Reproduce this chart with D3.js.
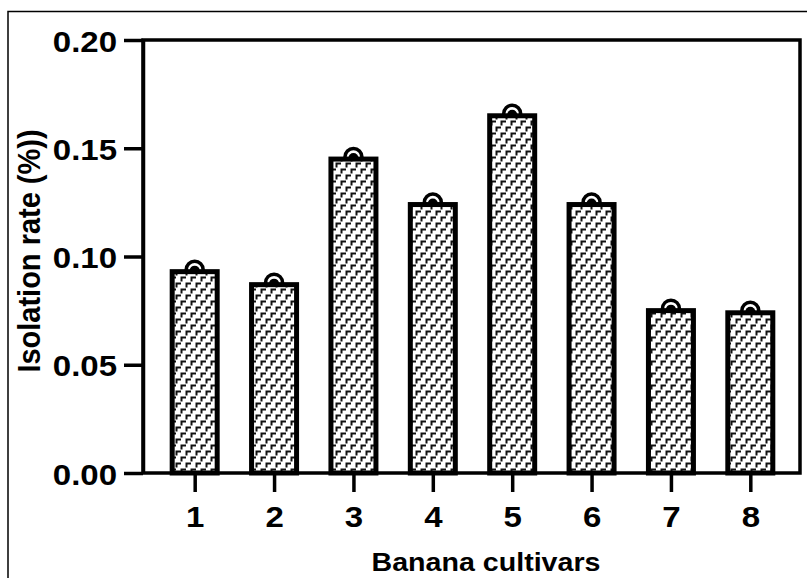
<!DOCTYPE html>
<html>
<head>
<meta charset="utf-8">
<script src="https://cdn.jsdelivr.net/npm/d3@7"></script>
<style>
  body { margin: 0; background: #fff; }
  text { font-family: "Liberation Sans", Arial, sans-serif; font-weight: bold; fill: #000; }
</style>
</head>
<body>
<script>
const cultivars = ["1", "2", "3", "4", "5", "6", "7", "8"];
const isolationRate = [0.093, 0.087, 0.145, 0.124, 0.165, 0.124, 0.075, 0.074];
const yTicks = [0, 0.05, 0.10, 0.15, 0.20];

const width = 807, height = 578;
const plotLeft = 143, plotRight = 800, plotTop = 40, plotBottom = 473;
const barWidth = 45;

const svg = d3.select("body").append("svg")
    .attr("width", width)
    .attr("height", height);

// brick-like pattern fill of the bars
const pat = svg.append("defs").append("pattern")
    .attr("id", "brick")
    .attr("patternUnits", "userSpaceOnUse")
    .attr("width", 10)
    .attr("height", 12);
pat.append("rect").attr("width", 10).attr("height", 12).attr("fill", "#fff");
pat.append("path")
    .attr("d", "M1.5,5.5V1.5H6M6.5,11.5V7.5H11M-3.5,11.5V7.5H1")
    .attr("fill", "none")
    .attr("stroke", "#111")
    .attr("stroke-width", 2);

// outer frame (left and top only)
svg.append("path")
    .attr("d", `M8,${height}V11.5H${width}`)
    .attr("fill", "none")
    .attr("stroke", "#000")
    .attr("stroke-width", 1.5);

const x = d3.scalePoint()
    .domain(cultivars)
    .range([155, 790])
    .padding(0.5);

const y = d3.scaleLinear()
    .domain([0, 0.2])
    .range([plotBottom, plotTop]);

// plot box
svg.append("rect")
    .attr("x", plotLeft).attr("y", plotTop)
    .attr("width", plotRight - plotLeft).attr("height", plotBottom - plotTop)
    .attr("fill", "none")
    .attr("stroke", "#000")
    .attr("stroke-width", 3.5);

// points behind bars
const pts = svg.append("g");
pts.selectAll("circle.ring")
    .data(isolationRate)
    .enter().append("circle")
    .attr("class", "ring")
    .attr("cx", (d, i) => x(cultivars[i]))
    .attr("cy", d => y(d) - 2)
    .attr("r", 8.5)
    .attr("fill", "#fff")
    .attr("stroke", "#000")
    .attr("stroke-width", 3.5);
pts.selectAll("circle.dot")
    .data(isolationRate)
    .enter().append("circle")
    .attr("class", "dot")
    .attr("cx", (d, i) => x(cultivars[i]))
    .attr("cy", d => y(d) - 1)
    .attr("r", 5)
    .attr("fill", "#000");

svg.append("g").selectAll("rect")
    .data(isolationRate)
    .enter().append("rect")
    .attr("x", (d, i) => x(cultivars[i]) - barWidth / 2)
    .attr("y", d => y(d))
    .attr("width", barWidth)
    .attr("height", d => plotBottom - y(d))
    .attr("fill", "url(#brick)")
    .attr("stroke", "#000")
    .attr("stroke-width", 5);

// y axis
const yAxis = svg.append("g")
    .attr("transform", `translate(${plotLeft},0)`)
    .call(d3.axisLeft(y).tickValues(yTicks).tickFormat(d3.format(".2f")).tickSize(19).tickSizeOuter(0));
yAxis.select(".domain").attr("stroke-width", 3.5);
yAxis.selectAll(".tick line").attr("stroke-width", 3.5);
yAxis.selectAll(".tick text")
    .attr("x", null).attr("dy", null)
    .attr("transform", "translate(-26,11) scale(1.1,1)")
    .attr("text-anchor", "end")
    .style("font-size", "30px");

// x axis
const xAxis = svg.append("g")
    .attr("transform", `translate(0,${plotBottom})`)
    .call(d3.axisBottom(x).tickSize(19).tickSizeOuter(0));
xAxis.select(".domain").remove();
xAxis.selectAll(".tick line").attr("stroke-width", 3.5);
xAxis.selectAll(".tick text")
    .attr("y", null).attr("dy", null)
    .attr("transform", "translate(0,54) scale(1.1,1)")
    .attr("text-anchor", "middle")
    .style("font-size", "30px");

// axis titles
svg.append("text")
    .attr("transform", "translate(486,571) scale(1.1,1)")
    .attr("text-anchor", "middle")
    .style("font-size", "26px")
    .text("Banana cultivars");

svg.append("text")
    .attr("transform", "translate(40,251) scale(1.1,1) rotate(-90)")
    .attr("text-anchor", "middle")
    .style("font-size", "29px")
    .text("Isolation rate (%))");
</script>
</body>
</html>
